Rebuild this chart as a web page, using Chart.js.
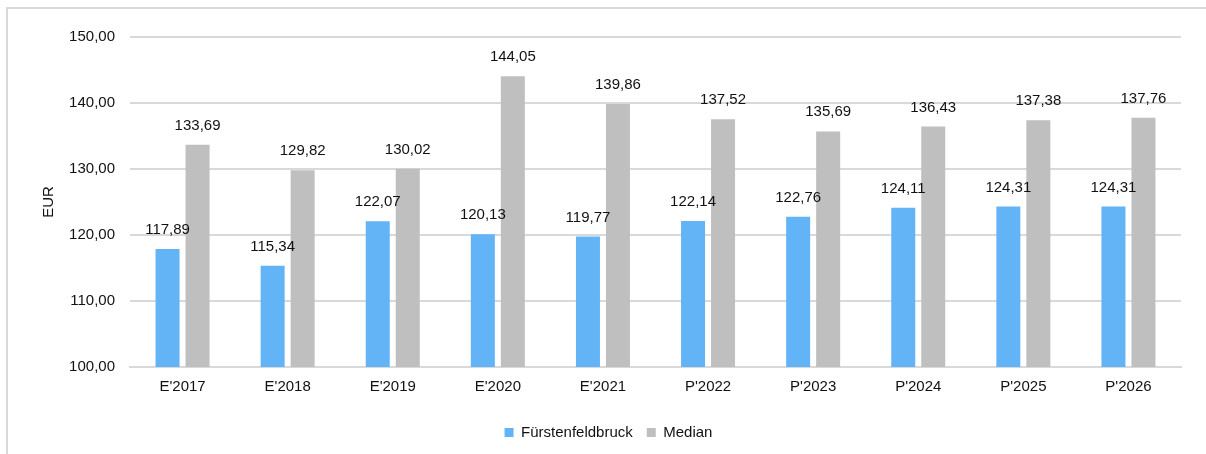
<!DOCTYPE html>
<html>
<head>
<meta charset="utf-8">
<script src="https://cdn.jsdelivr.net/npm/chart.js@4.4.0/dist/chart.umd.min.js"></script>
<style>
  html, body { margin: 0; background: #fff; overflow: hidden; }
  #frame { position: absolute; left: 6px; top: 7px; right: 0; bottom: 0; border-left: 2px solid #d9d9d9; border-top: 2px solid #d9d9d9; }
  #wrap { position: absolute; left: 0; top: 0; width: 1206px; height: 454px; }
</style>
</head>
<body>
<div id="frame"></div>
<div id="wrap"><canvas id="chart"></canvas></div>
<script>
// categories and values (EUR)
const years = ["E'2017", "E'2018", "E'2019", "E'2020", "E'2021", "P'2022", "P'2023", "P'2024", "P'2025", "P'2026"];
const ffb = [117.89, 115.34, 122.07, 120.13, 119.77, 122.14, 122.76, 124.11, 124.31, 124.31];
const median = [133.69, 129.82, 130.02, 144.05, 139.86, 137.52, 135.69, 136.43, 137.38, 137.76];
const yTicks = [100, 110, 120, 130, 140, 150];

const fmt = v => v.toFixed(2).replace('.', ',');
const FONT = 'Liberation Sans, Arial, sans-serif';

// value labels above each bar
const barLabels = {
  id: 'barLabels',
  afterDatasetsDraw(chart) {
    const ctx = chart.ctx;
    ctx.save();
    ctx.font = '15px ' + FONT;
    ctx.fillStyle = '#111';
    ctx.textAlign = 'center';
    ctx.textBaseline = 'alphabetic';
    chart.data.datasets.forEach((ds, i) => {
      chart.getDatasetMeta(i).data.forEach((bar, j) => {
        ctx.fillText(fmt(ds.data[j]), bar.x, bar.y - 15);
      });
    });
    ctx.restore();
  }
};

var ctx = document.getElementById('chart').getContext('2d');
var myChart = new Chart(ctx, {
  type: 'bar',
  data: {
    labels: years,
    datasets: [
      { label: 'Fürstenfeldbruck', data: ffb, backgroundColor: '#63b4f6' },
      { label: 'Median', data: median, backgroundColor: '#bfbfbf' }
    ]
  },
  options: {
    responsive: true,
    maintainAspectRatio: false,
    animation: false,
    categoryPercentage: 0.571,
    barPercentage: 0.8,
    layout: { padding: { left: 36, right: 25, top: 37, bottom: 4 } },
    plugins: {
      tooltip: { enabled: false },
      legend: {
        position: 'bottom',
        labels: {
          boxWidth: 9, boxHeight: 9, padding: 14,
          color: '#111',
          font: { family: FONT, size: 15 }
        }
      }
    },
    scales: {
      x: {
        grid: { display: false, drawTicks: false },
        border: { display: true, color: '#d9d9d9', width: 2 },
        ticks: { color: '#111', padding: 11, font: { family: FONT, size: 15 } },
        afterFit(scale) { scale.height = 44; }
      },
      y: {
        min: 100, max: 150,
        afterBuildTicks(scale) { scale.ticks = yTicks.map(v => ({ value: v })); },
        grid: { color: '#d9d9d9', lineWidth: 2, drawTicks: false },
        border: { display: false },
        ticks: { color: '#111', padding: 15, font: { family: FONT, size: 15 }, callback: v => fmt(v) },
        title: { display: true, text: 'EUR', color: '#111', font: { family: FONT, size: 15 } },
        afterFit(scale) { scale.width = 94; }
      }
    }
  },
  plugins: [barLabels]
});
</script>
</body>
</html>
